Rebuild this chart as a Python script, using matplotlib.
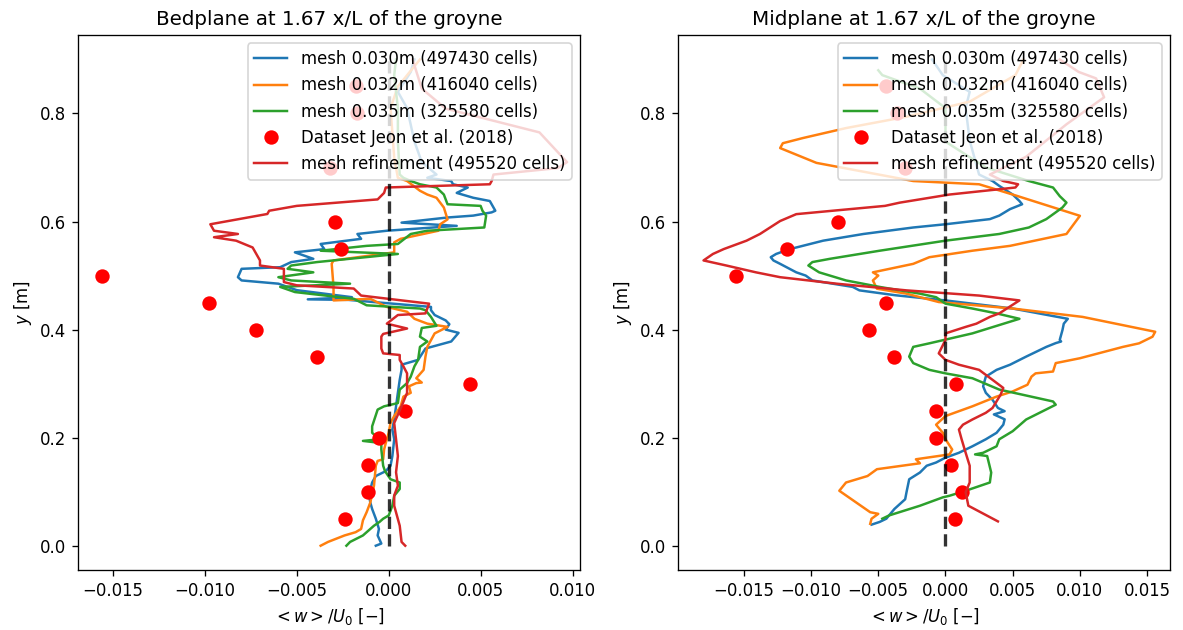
import matplotlib
matplotlib.use('Agg')
import matplotlib.pyplot as plt
import numpy as np

# ---- data (w/U0, y) ----
labels = ["mesh 0.030m (497430 cells)", "mesh 0.032m (416040 cells)",
          "mesh 0.035m (325580 cells)", "Dataset Jeon et al. (2018)",
          "mesh refinement (495520 cells)"]

# experimental points
exp_y = [0.05, 0.10, 0.15, 0.20, 0.25, 0.30, 0.35, 0.40, 0.45, 0.50, 0.55, 0.60, 0.70, 0.80, 0.85]
bed_exp_w = [-0.0024, -0.0011, -0.0011, -0.0005, 0.0009, 0.0044, -0.0039, -0.0072, -0.0098,
             -0.0156, -0.0026, -0.0029, -0.0032, -0.0017, -0.0018]
mid_exp_w = [0.0007, 0.0012, 0.0004, -0.0007, -0.0007, 0.0008, -0.0038, -0.0057, -0.0044,
             -0.0156, -0.0118, -0.0080, -0.0030, -0.0036, -0.0044]

# Bedplane
bed_030 = [(-0.0007, 0.0), (-0.0004, 0.004), (-0.0006, 0.019), (-0.00053, 0.031), (-0.0007, 0.05),
           (-0.0009, 0.068), (-0.001, 0.08), (-0.00107, 0.093), (-0.0009, 0.117), (-0.0007, 0.129),
           (-0.00016, 0.138), (0.0001, 0.148), (0.0002, 0.166), (0.0003, 0.197), (0.0002, 0.215),
           (0.0003, 0.234), (0.0004, 0.258), (0.0005, 0.283), (0.0006, 0.307), (0.0007, 0.3255),
           (0.0007, 0.335), (0.0016, 0.344), (0.002, 0.365), (0.0034, 0.378), (0.0038, 0.394),
           (0.0031, 0.4), (0.0033, 0.41), (0.0031, 0.417), (0.0025, 0.427), (0.0023, 0.436),
           (0.0023, 0.442), (-0.0022, 0.455), (-0.0044, 0.456), (-0.002, 0.46), (-0.005, 0.473),
           (-0.006, 0.485), (-0.008, 0.491), (-0.0082, 0.497), (-0.008, 0.5125), (-0.0059, 0.5155),
           (-0.0053, 0.525), (-0.0041, 0.531), (-0.0051, 0.543), (-0.0035, 0.549), (-0.0037, 0.5585),
           (-0.0015, 0.568), (-0.0017, 0.577), (-0.0001, 0.583), (0.0037, 0.592), (0.0007, 0.598),
           (0.0032, 0.6075), (0.0046, 0.611), (0.0056, 0.617), (0.0058, 0.62), (0.0055, 0.638),
           (0.0046, 0.644), (0.0037, 0.653), (0.0043, 0.663), (0.0035, 0.669), (0.0034, 0.675),
           (0.0021, 0.681), (0.0026, 0.687), (0.0018, 0.71), (0.0014, 0.748), (0.001, 0.81),
           (0.0005, 0.84), (0.0012, 0.877), (0.0014, 0.9)]
bed_032 = [(-0.0037, 0.0), (-0.0033, 0.007), (-0.0024, 0.019), (-0.0018, 0.025), (-0.0015, 0.031),
           (-0.0014, 0.047), (-0.0012, 0.062), (-0.001, 0.08), (-0.0008, 0.111), (-0.0007, 0.148),
           (-0.0006, 0.157), (-0.0003, 0.16), (-0.00025, 0.178), (-0.00016, 0.19), (0.0, 0.209),
           (0.0001, 0.2275), (0.0003, 0.24), (0.00065, 0.258), (0.0008, 0.276), (0.0012, 0.283),
           (0.0011, 0.295), (0.0015, 0.301), (0.0018, 0.302), (0.0015, 0.31), (0.0019, 0.3255),
           (0.002, 0.35), (0.0021, 0.368), (0.0025, 0.393), (0.0032, 0.405), (0.0021, 0.411),
           (0.0014, 0.42), (0.001, 0.433), (-0.0001, 0.442), (-0.001, 0.457), (-0.003, 0.454),
           (-0.003, 0.479), (-0.0031, 0.522), (-0.003, 0.528), (0.0003, 0.543), (0.0003, 0.5615),
           (0.00065, 0.568), (0.0027, 0.583), (0.0028, 0.595), (0.0032, 0.604), (0.003, 0.626),
           (0.0026, 0.644), (0.0021, 0.65), (0.0017, 0.657), (0.001, 0.675), (0.0005, 0.681),
           (0.0003, 0.718), (0.0001, 0.81), (0.0005, 0.85), (0.0017, 0.9)]
bed_035 = [(-0.0023, 0.0), (-0.0021, 0.007), (-0.0014, 0.019), (-0.0008, 0.037), (-0.0005, 0.044),
           (-0.0003, 0.05), (0.0, 0.056), (0.0002, 0.074), (0.0003, 0.0925), (0.0006, 0.105),
           (0.0006, 0.117), (0.0001, 0.123), (-0.0002, 0.138), (-0.0003, 0.148), (-0.0004, 0.178),
           (-0.0004, 0.19), (-0.0014, 0.194), (-0.0005, 0.197), (-0.0009, 0.209), (-0.0009, 0.221),
           (-0.0006, 0.252), (-0.00025, 0.258), (0.0005, 0.264), (0.0006, 0.289), (0.001, 0.301),
           (0.0012, 0.313), (0.0014, 0.332), (0.0016, 0.344), (0.0017, 0.368), (0.0021, 0.378),
           (0.0017, 0.387), (0.0018, 0.403), (0.0026, 0.407), (0.0023, 0.4235), (0.002, 0.436),
           (0.0017, 0.439), (-0.0012, 0.445), (-0.0019, 0.457), (-0.0051, 0.4695), (-0.0059, 0.479),
           (-0.0021, 0.485), (-0.0053, 0.491), (-0.006, 0.497), (-0.0041, 0.506), (-0.0055, 0.5125),
           (-0.0053, 0.5186), (-0.0039, 0.525), (0.0005, 0.54), (-0.0037, 0.546), (-0.0012, 0.555),
           (0.0005, 0.5585), (0.0012, 0.577), (0.0021, 0.583), (0.0052, 0.589), (0.0053, 0.611),
           (0.0051, 0.62), (0.005, 0.629), (0.0032, 0.632), (0.003, 0.65), (0.0026, 0.663),
           (0.0017, 0.669), (0.0012, 0.675), (0.0008, 0.681), (0.0006, 0.687), (0.0005, 0.748),
           (0.0005, 0.81), (0.0003, 0.871), (0.0004, 0.9)]
bed_ref = [(0.0009, 0.0), (0.0007, 0.007), (0.0006, 0.037), (0.0003, 0.074), (0.0003, 0.093),
           (0.0005, 0.111), (0.0004, 0.136), (0.0005, 0.166), (0.0004, 0.197), (0.0003, 0.227),
           (0.0007, 0.258), (0.001, 0.283), (0.001, 0.319), (0.0008, 0.332), (0.0006, 0.344),
           (0.0006, 0.353), (-0.0003, 0.356), (-0.0004, 0.365), (-0.0004, 0.387), (-0.0003, 0.392),
           (0.001, 0.402), (-0.0001, 0.411), (0.0005, 0.427), (0.002, 0.43), (0.0022, 0.448),
           (-0.0015, 0.463), (-0.0019, 0.476), (-0.005, 0.482), (-0.0057, 0.488), (-0.0057, 0.5125),
           (-0.007, 0.5186), (-0.007, 0.528), (-0.0074, 0.552), (-0.0083, 0.5646), (-0.0095, 0.571),
           (-0.0082, 0.577), (-0.0095, 0.583), (-0.0097, 0.595), (-0.0066, 0.614), (-0.0065, 0.62),
           (-0.005, 0.629), (-0.0006, 0.641), (-0.00025, 0.653), (-0.00016, 0.663), (0.0055, 0.669),
           (0.0056, 0.675), (0.0057, 0.687), (0.0092, 0.699), (0.0097, 0.71), (0.0082, 0.765),
           (0.0031, 0.809), (0.0018, 0.846), (0.0013, 0.9)]

# Midplane
mid_030 = [(-0.0055, 0.039), (-0.0049, 0.044), (-0.0044, 0.05), (-0.0038, 0.068), (-0.003, 0.086),
           (-0.0029, 0.099), (-0.0027, 0.123), (-0.0019, 0.1355), (-0.0014, 0.148), (-0.0007, 0.154),
           (0.0, 0.163), (0.001, 0.172), (0.002, 0.184), (0.003, 0.197), (0.0038, 0.209),
           (0.0043, 0.224), (0.0044, 0.234), (0.0036, 0.243), (0.0044, 0.249), (0.0039, 0.255),
           (0.0035, 0.27), (0.003, 0.283), (0.0028, 0.295), (0.003, 0.313), (0.0038, 0.3255),
           (0.0048, 0.335), (0.006, 0.35), (0.0075, 0.368), (0.0082, 0.375), (0.0086, 0.378),
           (0.0085, 0.381), (0.0087, 0.399), (0.0088, 0.411), (0.0091, 0.42), (0.005, 0.439),
           (0.0, 0.454), (-0.0037, 0.4635), (-0.0064, 0.4726), (-0.0069, 0.479), (-0.0099, 0.491),
           (-0.0104, 0.5), (-0.0111, 0.506), (-0.0123, 0.5217), (-0.0128, 0.528), (-0.013, 0.534),
           (-0.0126, 0.54), (-0.0116, 0.549), (-0.0111, 0.552), (-0.0091, 0.5646), (-0.0061, 0.577),
           (-0.0024, 0.589), (0.0, 0.595), (0.0033, 0.6045), (0.004, 0.611), (0.0048, 0.623),
           (0.0057, 0.632), (0.0055, 0.638), (0.005, 0.65), (0.004, 0.666), (0.0035, 0.675),
           (0.0025, 0.687), (0.0018, 0.75), (0.0015, 0.81), (0.0018, 0.84), (-0.0002, 0.871),
           (-0.001, 0.9)]
mid_032 = [(-0.0056, 0.0405), (-0.0055, 0.05), (-0.005, 0.059), (-0.0056, 0.062), (-0.0079, 0.1017),
           (-0.0074, 0.117), (-0.0058, 0.129), (-0.0051, 0.1416), (-0.0019, 0.1526), (-0.0022, 0.16),
           (0.0003, 0.169), (0.0005, 0.178), (0.0, 0.197), (-0.0002, 0.209), (-0.0007, 0.224),
           (0.0, 0.24), (0.002, 0.258), (0.0038, 0.276), (0.005, 0.2856), (0.0061, 0.298),
           (0.0064, 0.313), (0.0067, 0.319), (0.008, 0.3224), (0.0082, 0.338), (0.01, 0.347),
           (0.0132, 0.368), (0.0144, 0.3746), (0.0154, 0.3868), (0.0156, 0.396), (0.0102, 0.4235),
           (0.005, 0.439), (-0.0005, 0.451), (-0.0029, 0.4665), (-0.0051, 0.4757), (-0.0054, 0.491),
           (-0.005, 0.5), (-0.0054, 0.506), (-0.0024, 0.5217), (-0.0012, 0.534), (0.002, 0.546),
           (0.0048, 0.555), (0.009, 0.577), (0.01, 0.6106), (0.005, 0.65), (0.0025, 0.669),
           (-0.0024, 0.675), (-0.0069, 0.696), (-0.0096, 0.7086), (-0.0123, 0.736), (-0.0121, 0.745),
           (-0.0106, 0.7546), (-0.0074, 0.773), (-0.0029, 0.794), (0.0018, 0.822), (0.0052, 0.871),
           (0.0058, 0.9)]
mid_035 = [(-0.0047, 0.05), (-0.0042, 0.056), (-0.0019, 0.074), (-0.0002, 0.0895), (0.0003, 0.0925),
           (0.0015, 0.1017), (0.0033, 0.117), (0.0034, 0.1355), (0.0031, 0.166), (0.0022, 0.169),
           (0.0028, 0.172), (0.0038, 0.184), (0.004, 0.197), (0.005, 0.212), (0.006, 0.2336),
           (0.0082, 0.261), (0.008, 0.267), (0.004, 0.289), (0.002, 0.31), (0.0, 0.319),
           (-0.0012, 0.3255), (-0.0024, 0.338), (-0.0027, 0.35), (-0.0024, 0.368), (-0.0012, 0.3746),
           (0.002, 0.393), (0.0055, 0.42), (0.0038, 0.43), (0.002, 0.439), (0.0, 0.448),
           (-0.0007, 0.46), (-0.0019, 0.4665), (-0.0049, 0.479), (-0.0074, 0.491), (-0.0094, 0.506),
           (-0.0102, 0.5186), (-0.0099, 0.525), (-0.0086, 0.531), (-0.0049, 0.546), (0.0, 0.5646),
           (0.004, 0.577), (0.0062, 0.589), (0.0075, 0.6045), (0.0087, 0.626), (0.009, 0.635),
           (0.0085, 0.647), (0.008, 0.663), (0.0062, 0.675), (0.003, 0.7), (0.0, 0.748),
           (0.0, 0.81), (-0.0019, 0.846), (-0.0047, 0.871), (-0.005, 0.88)]
mid_ref = [(0.0039, 0.045), (0.0017, 0.074), (0.0015, 0.099), (0.0018, 0.117), (0.0018, 0.148),
           (0.0015, 0.172), (0.0012, 0.197), (0.001, 0.215), (0.0013, 0.224), (0.002, 0.2336),
           (0.003, 0.246), (0.0035, 0.255), (0.0041, 0.2795), (0.0043, 0.292), (0.0035, 0.307),
           (0.0025, 0.3255), (0.001, 0.335), (0.0, 0.344), (-0.0005, 0.356), (0.0, 0.381),
           (0.0, 0.393), (0.0015, 0.405), (0.0023, 0.411), (0.0033, 0.4235), (0.004, 0.43),
           (0.0055, 0.454), (0.0025, 0.463), (-0.0029, 0.4726), (-0.0081, 0.485), (-0.0123, 0.497),
           (-0.0141, 0.506), (-0.0163, 0.5186), (-0.018, 0.528), (-0.0173, 0.54), (-0.0165, 0.549),
           (-0.0148, 0.5646), (-0.0138, 0.577), (-0.0123, 0.601), (-0.0111, 0.6137), (-0.0084, 0.62),
           (-0.0045, 0.629), (-0.0034, 0.635), (0.0003, 0.65), (0.0052, 0.663), (0.0054, 0.669),
           (0.0043, 0.675), (0.0033, 0.687), (0.006, 0.72), (0.009, 0.78), (0.0118, 0.83),
           (0.0112, 0.865), (0.0099, 0.877), (0.0085, 0.9)]

panels = [
    ("Bedplane at 1.67 x/L of the groyne", [bed_030, bed_032, bed_035], bed_exp_w, bed_ref,
     (-0.0169, 0.0104)),
    ("Midplane at 1.67 x/L of the groyne", [mid_030, mid_032, mid_035], mid_exp_w, mid_ref,
     (-0.0199, 0.0167)),
]

dpi = 119
fig = plt.figure(figsize=(1183 / dpi, 630 / dpi), dpi=dpi)
rects = [[0.0659, 0.0952, 0.4243, 0.849], [0.5731, 0.0952, 0.4159, 0.849]]

for rect, (title, meshes, exp_w, ref, xlim) in zip(rects, panels):
    ax = fig.add_axes(rect)
    for i, m in enumerate(meshes):
        m = np.array(m)
        ax.plot(m[:, 0], m[:, 1], color='C%d' % i, label=labels[i])
    ax.plot(exp_w, exp_y, 'o', color='red', markersize=7.7, label=labels[3])
    r = np.array(ref)
    ax.plot(r[:, 0], r[:, 1], color='C3', label=labels[4])
    ax.plot([0, 0], [0, 0.9], 'k--', lw=2, alpha=0.8)
    ax.set_xlim(*xlim)
    ax.set_ylim(-0.045, 0.945)
    ax.set_yticks([0.0, 0.2, 0.4, 0.6, 0.8])
    ax.set_title(title)
    ax.set_xlabel(r'$<w>/U_0$ $[-]$')
    ax.set_ylabel(r'$y$ [m]')
    ax.legend(loc='upper right')

fig.savefig('out.png', dpi=dpi)
